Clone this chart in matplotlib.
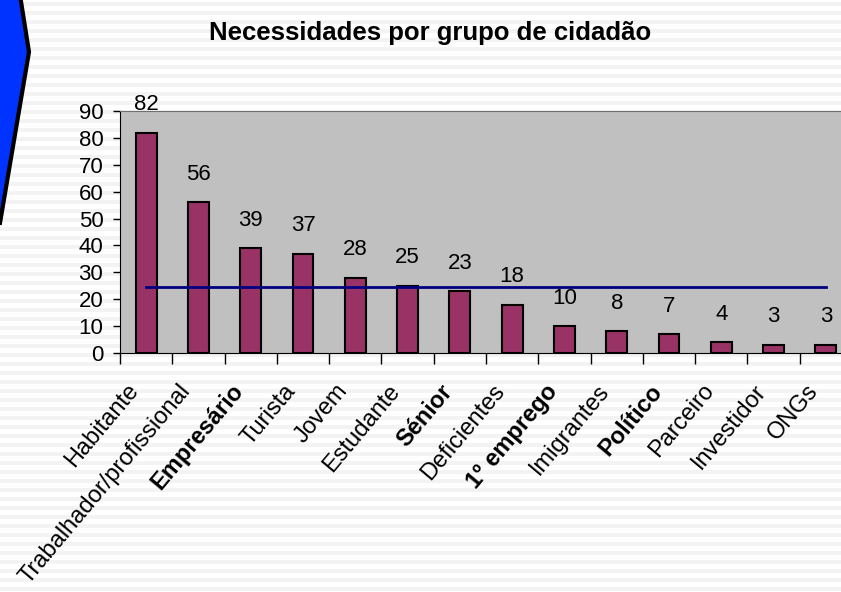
import matplotlib
matplotlib.use("Agg")
import matplotlib.pyplot as plt
import matplotlib.transforms as mtransforms
import numpy as np
from matplotlib.patches import Polygon

# data
categories = ["Habitante", "Trabalhador/profissional", "Empresário", "Turista",
              "Jovem", "Estudante", "Sénior", "Deficientes", "1º emprego",
              "Imigrantes", "Político", "Parceiro", "Investidor", "ONGs"]
values = [82, 56, 39, 37, 28, 25, 23, 18, 10, 8, 7, 4, 3, 3]
bold_labels = ["Empresário", "Sénior", "1º emprego", "Político"]
title = "Necessidades por grupo de cidadão"

plt.rcParams["font.family"] = ["Liberation Sans", "DejaVu Sans"]

W, H = 841, 592
fig = plt.figure(figsize=(W / 100, H / 100), dpi=100)
fig.patch.set_facecolor("white")

# striped slide background
bg = fig.add_axes([0, 0, 1, 1], zorder=-10)
bg.set_xlim(0, W)
bg.set_ylim(H, 0)
bg.axis("off")
for y in np.arange(2, H, 9):
    bg.axhspan(y, y + 4, color="#F3F3F3", lw=0)
arrow = Polygon([(-5, -5), (20, -5), (29, 52), (0, 223), (-5, 223)],
                closed=True, facecolor="#0033FF", edgecolor="black", lw=3)
bg.add_patch(arrow)

# plot area
left, right = 120, 852
top, bottom = 111, 353
ax = fig.add_axes([left / W, 1 - bottom / H, (right - left) / W, (bottom - top) / H])
ax.set_facecolor("#C0C0C0")

x = np.arange(len(values))
ax.bar(x, values, width=0.4, color="#993366", edgecolor="black", linewidth=1.5, zorder=2)

mean_val = np.mean(values)
ax.plot([x[0], x[-1]], [mean_val, mean_val], color="#000080", lw=2, zorder=3)

for xi, v in zip(x, values):
    ax.text(xi, v + 6.5, str(v), ha="center", va="bottom", fontsize=16, zorder=4, clip_on=False)

ax.set_xlim(-0.5, len(values) - 0.5)
ax.set_ylim(0, 90)
ax.set_yticks(np.arange(0, 91, 10))
ax.tick_params(axis="y", labelsize=16, length=5, width=1, direction="out", pad=7)

ax.set_xticks(np.arange(-0.5, len(values) - 0.4, 1.0))
ax.set_xticklabels([])
ax.tick_params(axis="x", length=8, width=1, direction="out")
ax.set_xticks(x, minor=True)
ax.set_xticklabels(categories, minor=True, rotation=50, ha="right",
                   rotation_mode="anchor", fontsize=17)
ax.tick_params(axis="x", which="minor", length=0, pad=0)
shift = mtransforms.ScaledTranslation(-20 / 100, -27 / 100, fig.dpi_scale_trans)
for lbl in ax.get_xticklabels(minor=True):
    lbl.set_transform(lbl.get_transform() + shift)
    if lbl.get_text() in bold_labels:
        lbl.set_fontweight("bold")

ax.spines["top"].set_color("#707070")
ax.spines["right"].set_visible(False)
ax.spines["left"].set_color("black")
ax.spines["bottom"].set_color("black")

fig.text(430 / W, 1 - 33 / H, title, ha="center", va="center",
         fontsize=18.5, fontweight="bold")

fig.savefig("out.png", dpi=100)
